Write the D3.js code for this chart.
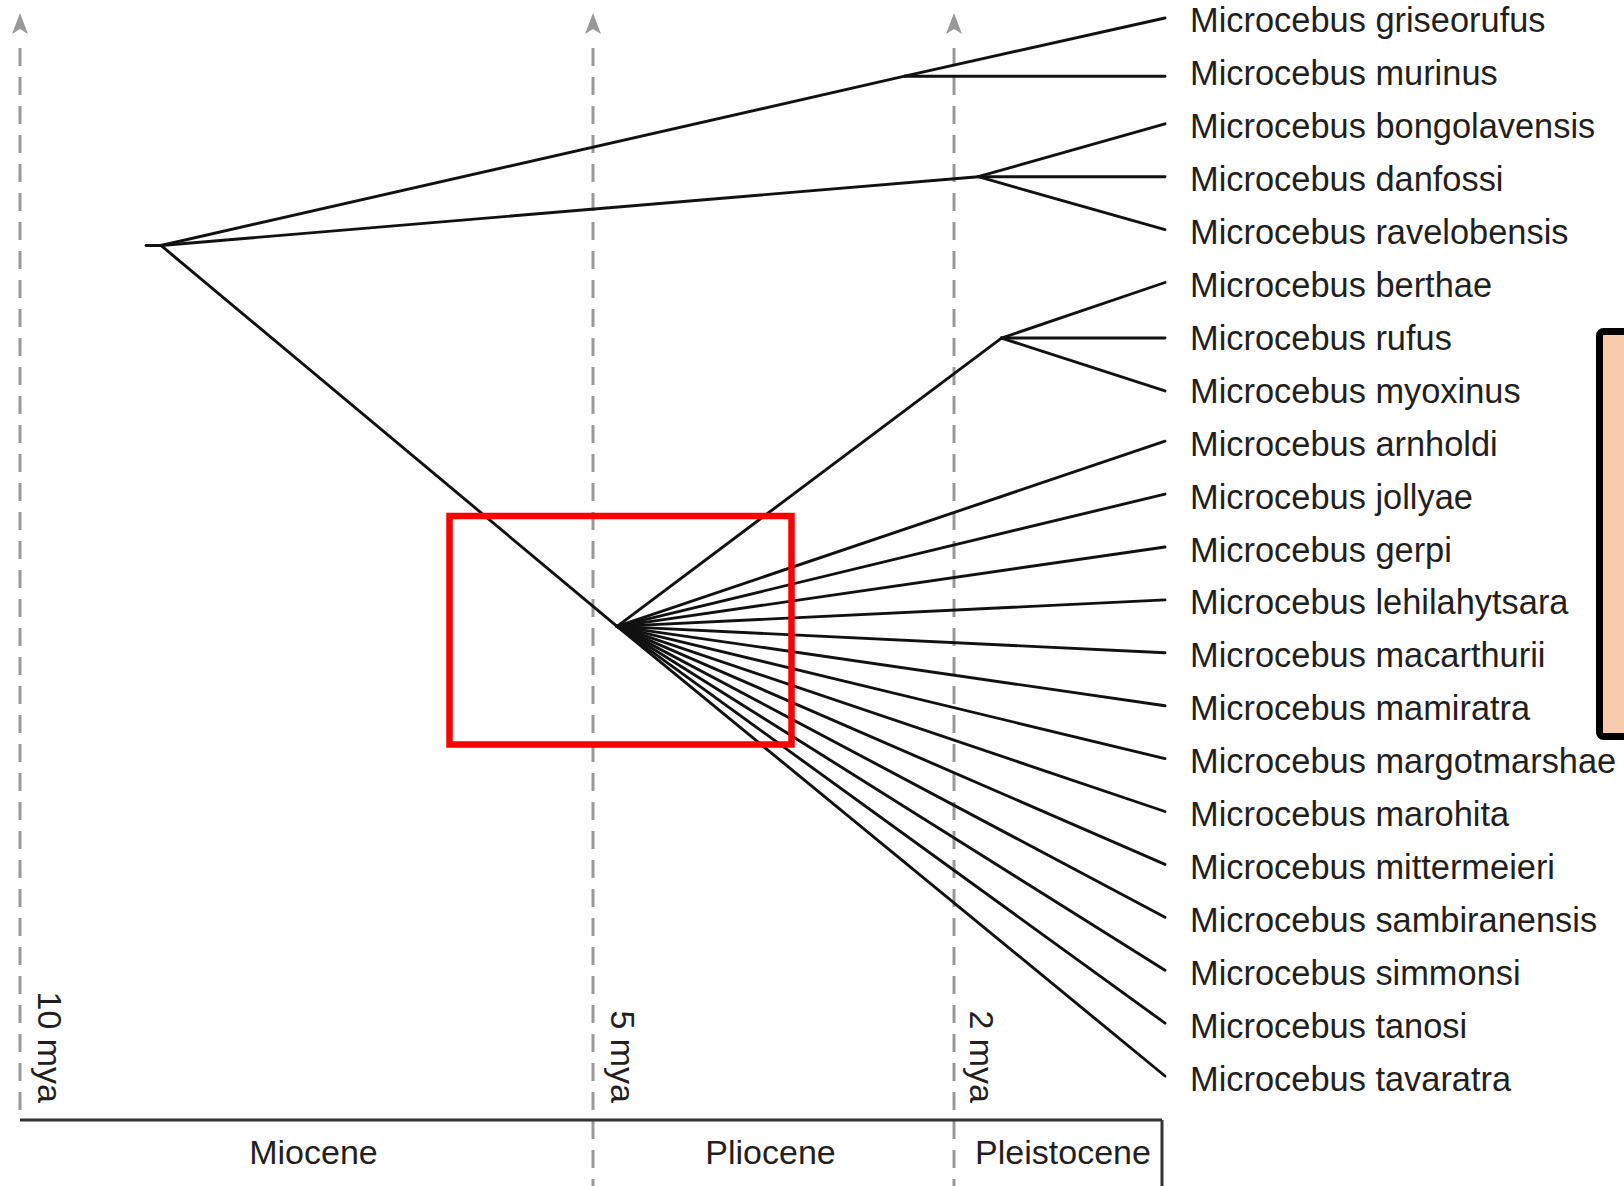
<!DOCTYPE html>
<html>
<head>
<meta charset="utf-8">
<script src="https://cdn.jsdelivr.net/npm/d3@7"></script>
<style>
  body { margin: 0; background: #fff; }
  svg { display: block; }
</style>
</head>
<body>
<div id="chart"></div>
<script>
// leaves, top to bottom, with the clade each one hangs from
const species = [
  "Microcebus griseorufus", "Microcebus murinus", "Microcebus bongolavensis",
  "Microcebus danfossi", "Microcebus ravelobensis", "Microcebus berthae",
  "Microcebus rufus", "Microcebus myoxinus", "Microcebus arnholdi",
  "Microcebus jollyae", "Microcebus gerpi", "Microcebus lehilahytsara",
  "Microcebus macarthurii", "Microcebus mamiratra", "Microcebus margotmarshae",
  "Microcebus marohita", "Microcebus mittermeieri", "Microcebus sambiranensis",
  "Microcebus simmonsi", "Microcebus tanosi", "Microcebus tavaratra"
];
const speciesParent = [
  "A", "A", "B", "B", "B", "C", "C", "C",
  "D", "D", "D", "D", "D", "D", "D", "D", "D", "D", "D", "D", "D"
];
// where each branch tip meets the label column (leaf units)
const speciesRow = [
  0, 1.1, 2, 3, 4, 5, 6.05, 7.05, 8, 9, 10, 11,
  12, 13, 14, 15, 16, 17, 18, 19, 20
];

// internal nodes: age in mya, row = position in leaf units
const cladeIds = ["root", "A", "B", "C", "D"];
const cladeParent = [null, "root", "root", "D", "root"];
const cladeAge = [8.77, 2.41, 1.77, 1.55, 4.80];
const cladeRow = [4.3, 1.1, 3, 6.05, 11.5];
const rootStemAge = 8.9;

const timeMarks = [10, 5, 2];
const timeLabels = ["10 mya", "5 mya", "2 mya"];

const epochNames = ["Miocene", "Pliocene", "Pleistocene"];
const epochStart = [10, 5, 2];
const epochEnd = [5, 2, 0];

const width = 1624;
const height = 1186;
const baseY = 1120;
const font = "'Liberation Sans', Arial, Helvetica, sans-serif";
const grey = "#999";
const ink = "#231f20";

// the time axis in the figure is not to scale, so use a piecewise scale
const x = d3.scaleLinear().domain([10, 5, 2, 0]).range([20, 593, 954, 1165]);
const y = d3.scaleLinear().domain([0, species.length - 1]).range([18, 1076]);

const svg = d3.select("#chart")
  .append("svg")
  .attr("width", width)
  .attr("height", height)
  .style("background", "#fff");

// dashed time lines with arrow heads
const marks = svg.append("g");
timeMarks.forEach((m, i) => {
  const mx = x(m);
  marks.append("line")
    .attr("x1", mx).attr("x2", mx)
    .attr("y1", 48)
    .attr("y2", i === 0 ? baseY : height)
    .attr("stroke", grey)
    .attr("stroke-width", 3)
    .attr("stroke-dasharray", "18,11");

  marks.append("path")
    .attr("d", `M${mx},13 L${mx - 8},34 L${mx},29 L${mx + 8},34 Z`)
    .attr("fill", grey);

  marks.append("text")
    .attr("transform", `translate(${mx + (i === 2 ? 28 : 30)},1103) rotate(90)`)
    .attr("text-anchor", "end")
    .attr("dominant-baseline", "central")
    .style("font-family", font)
    .style("font-size", "34px")
    .style("fill", ink)
    .text(timeLabels[i]);
});

// epoch bar
svg.append("line")
  .attr("x1", x(10)).attr("x2", x(0) - 3)
  .attr("y1", baseY).attr("y2", baseY)
  .attr("stroke", "#333")
  .attr("stroke-width", 3);

svg.append("line")
  .attr("x1", x(0) - 3).attr("x2", x(0) - 3)
  .attr("y1", baseY).attr("y2", height)
  .attr("stroke", "#333")
  .attr("stroke-width", 3);

const epochNudge = [7, -3, 5];
epochNames.forEach((name, i) => {
  const x0 = x(epochStart[i]);
  const x1 = epochEnd[i] === 0 ? x(0) - 3 : x(epochEnd[i]);
  svg.append("text")
    .attr("x", (x0 + x1) / 2 + epochNudge[i])
    .attr("y", 1152)
    .attr("text-anchor", "middle")
    .attr("dominant-baseline", "central")
    .style("font-family", font)
    .style("font-size", "34px")
    .style("fill", ink)
    .text(name);
});

// tree
const table = cladeIds.map((id, i) => ({
  id, parent: cladeParent[i], age: cladeAge[i], row: cladeRow[i]
})).concat(species.map((name, i) => ({
  id: name, parent: speciesParent[i], age: 0, row: speciesRow[i], index: i
})));

const root = d3.stratify()
  .id(d => d.id)
  .parentId(d => d.parent)(table);

const tree = svg.append("g")
  .attr("stroke", "#111")
  .attr("stroke-width", 2.9)
  .attr("stroke-linecap", "round");

tree.append("line")
  .attr("x1", x(rootStemAge)).attr("x2", x(root.data.age))
  .attr("y1", y(root.data.row)).attr("y2", y(root.data.row));

tree.selectAll("line.branch")
  .data(root.links())
  .enter()
  .append("line")
  .attr("class", "branch")
  .attr("x1", d => x(d.source.data.age))
  .attr("y1", d => y(d.source.data.row))
  .attr("x2", d => x(d.target.data.age))
  .attr("y2", d => y(d.target.data.row));

svg.selectAll("text.leaf")
  .data(root.leaves())
  .enter()
  .append("text")
  .attr("class", "leaf")
  .attr("x", x(0) + 25)
  .attr("y", d => y(d.data.index) + 2 + d.data.index * 0.05)
  .attr("dominant-baseline", "central")
  .style("font-family", font)
  .style("font-size", "34.4px")
  .style("fill", ink)
  .text(d => d.data.id);

// highlight boxes
svg.append("rect")
  .attr("x", 449.5).attr("y", 516)
  .attr("width", 342).attr("height", 228.5)
  .attr("fill", "none")
  .attr("stroke", "#ff0000")
  .attr("stroke-width", 6.5);

svg.append("rect")
  .attr("x", 1599.5).attr("y", 331.5)
  .attr("width", 80).attr("height", 405)
  .attr("rx", 4)
  .attr("fill", "#f8cbad")
  .attr("stroke", "#000")
  .attr("stroke-width", 7);
</script>
</body>
</html>
